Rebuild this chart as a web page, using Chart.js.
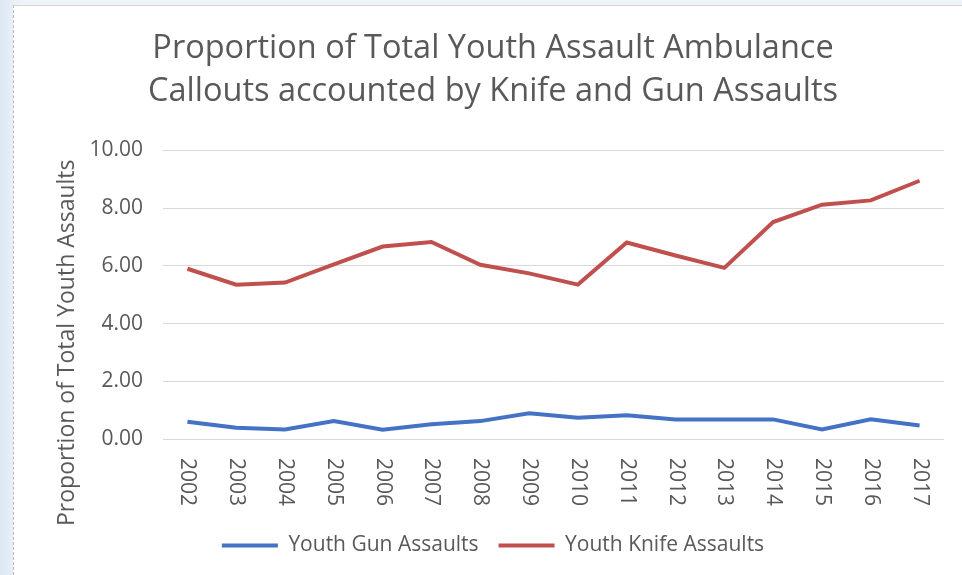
<!DOCTYPE html>
<html>
<head>
<meta charset="utf-8">
<script src="https://cdn.jsdelivr.net/npm/chart.js@4.4.1/dist/chart.umd.min.js"></script>
<style>
  html, body { margin: 0; padding: 0; }
  body { width: 962px; height: 575px; background: linear-gradient(90deg, #dde8f5, #eef3fa 20px); position: relative; overflow: hidden; }
  #box { position: absolute; left: 13px; top: 5px; width: 949px; height: 570px; background: #fff;
         border-top: 1px solid #d6d6d6; border-left: 1px dashed #b8b8b8; box-sizing: border-box; }
</style>
</head>
<body>
<div id="box"><canvas id="myChart"></canvas></div>
<script>
const years = ['2002', '2003', '2004', '2005', '2006', '2007', '2008', '2009',
               '2010', '2011', '2012', '2013', '2014', '2015', '2016', '2017'];
const gunAssaults = [0.60, 0.39, 0.33, 0.62, 0.32, 0.51, 0.62, 0.89,
                     0.74, 0.82, 0.68, 0.68, 0.68, 0.33, 0.68, 0.47];
const knifeAssaults = [5.90, 5.35, 5.42, 6.05, 6.67, 6.83, 6.04, 5.74,
                       5.35, 6.81, 6.36, 5.93, 7.52, 8.12, 8.27, 8.95];
const yTicks = [0, 2, 4, 6, 8, 10];
const yTitle = 'Proportion of Total Youth Assaults';

const textGrey = '#595959';
const fontFamily = '"Open Sans", "Liberation Sans", sans-serif';

// x labels read top to bottom in the original, so draw them turned clockwise;
// the y title sits lower than the middle of the plot, so draw it by hand too
const customText = {
    id: 'customText',
    afterDraw(chart) {
        const ctx = chart.ctx;
        const xs = chart.scales.x;
        const ys = chart.scales.y;
        const area = chart.chartArea;
        ctx.save();
        ctx.fillStyle = textGrey;
        ctx.textBaseline = 'middle';

        ctx.font = '21px ' + fontFamily;
        ctx.textAlign = 'left';
        xs.ticks.forEach((t, i) => {
            ctx.save();
            ctx.translate(xs.getPixelForTick(i), xs.top + 19);
            ctx.rotate(Math.PI / 2);
            ctx.fillText(years[i], 0, 0);
            ctx.restore();
        });

        ctx.font = '23px ' + fontFamily;
        ctx.textAlign = 'center';
        ctx.translate(ys.left + 43, (area.top + area.bottom) / 2 + 48);
        ctx.rotate(-Math.PI / 2);
        ctx.fillText(yTitle, 0, 0);
        ctx.restore();
    }
};

new Chart('myChart', {
    type: 'line',
    data: {
        labels: years,
        datasets: [{
            label: 'Youth Gun Assaults',
            data: gunAssaults,
            borderColor: '#4472C4',
            backgroundColor: '#4472C4',
            borderWidth: 4,
            pointRadius: 0,
            pointStyle: 'line',
            tension: 0
        }, {
            label: 'Youth Knife Assaults',
            data: knifeAssaults,
            borderColor: '#C0504D',
            backgroundColor: '#C0504D',
            borderWidth: 4,
            pointRadius: 0,
            pointStyle: 'line',
            tension: 0
        }]
    },
    options: {
        responsive: true,
        maintainAspectRatio: false,
        animation: false,
        layout: { padding: { left: 10, right: 0, top: 0, bottom: 9 } },
        plugins: {
            title: {
                display: true,
                text: ['Proportion of Total Youth Assault Ambulance', 'Callouts accounted by Knife and Gun Assaults'],
                color: textGrey,
                font: { family: fontFamily, size: 32.5, weight: 'normal', lineHeight: 1.33 },
                padding: { top: 21, bottom: 37 }
            },
            legend: {
                position: 'bottom',
                labels: {
                    color: textGrey,
                    font: { family: fontFamily, size: 21 },
                    usePointStyle: true,
                    pointStyleWidth: 56,
                    padding: 20
                }
            },
            tooltip: { enabled: false }
        },
        scales: {
            x: {
                offset: true,
                grid: { display: false, drawTicks: false },
                border: { display: false },
                ticks: { display: false },
                afterFit(scale) { scale.height = 76; }
            },
            y: {
                min: 0,
                max: 10,
                afterBuildTicks(axis) {
                    axis.ticks = yTicks.map(v => ({ value: v }));
                },
                grid: { color: '#d9d9d9', lineWidth: 1, drawTicks: false },
                border: { display: false },
                ticks: {
                    color: textGrey,
                    font: { family: fontFamily, size: 21 },
                    padding: 20,
                    callback: v => Number(v).toFixed(2)
                },
                afterFit(scale) { scale.width = 139; }
            },
            // empty right-hand box, only keeps the plot clear of the right edge
            y2: {
                position: 'right',
                grid: { display: false, drawTicks: false },
                border: { display: false },
                ticks: { display: false },
                afterFit(scale) { scale.width = 18; }
            }
        }
    },
    plugins: [customText]
});
</script>
</body>
</html>
